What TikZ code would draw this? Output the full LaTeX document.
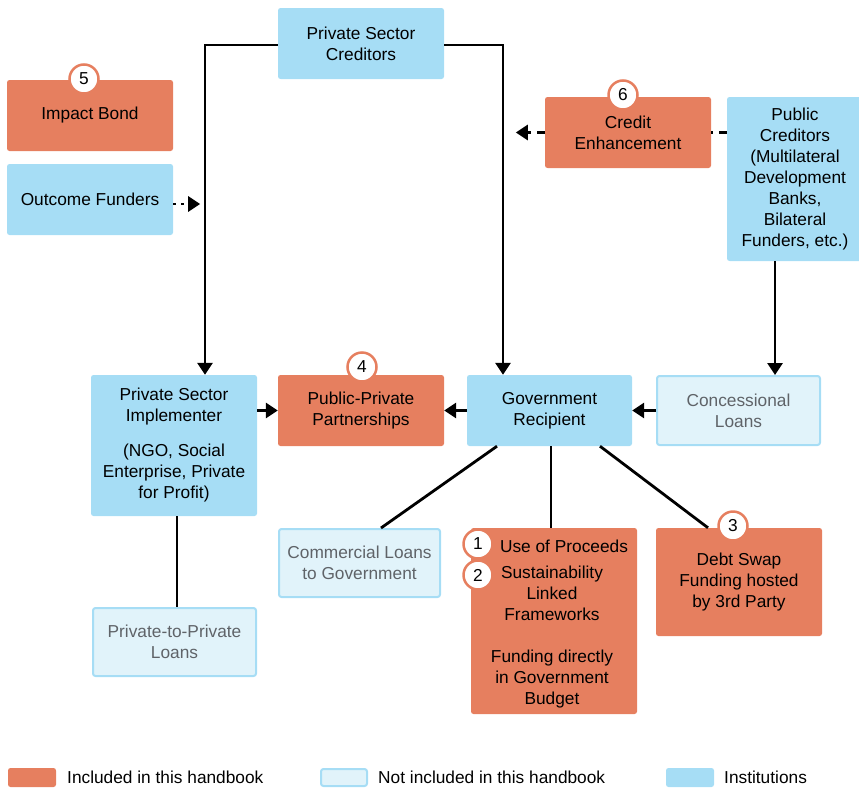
\documentclass[tikz,border=0pt]{standalone}
\usepackage{fontspec}
\setmainfont{Liberation Sans}
\usetikzlibrary{arrows.meta}
\definecolor{incl}{HTML}{E67F5F}
\definecolor{inst}{HTML}{A6DDF5}
\definecolor{notincl}{HTML}{E1F3FA}
\definecolor{notincltext}{HTML}{5F6368}

\begin{document}
\begin{tikzpicture}[x=1pt, y=-1pt,
		font=\fontsize{17.3pt}{21pt}\selectfont,
		box/.style={rounded corners=2.5pt, inner sep=0pt, align=center, minimum width=166pt, minimum height=71pt},
		inclbox/.style={box, fill=incl},
		instbox/.style={box, fill=inst},
		notbox/.style={box, fill=notincl, draw=inst, line width=2pt, text=notincltext},
		badge/.style={circle, fill=white, draw=incl, line width=2.5pt, minimum size=29pt, inner sep=0pt},
		conn/.style={line width=2.8pt},
		arr/.style={conn, -{Triangle[length=12pt, width=15pt]}},
		dotarr/.style={arr, dash pattern=on 3pt off 5pt},
		dasharr/.style={arr, dash pattern=on 8pt off 6pt},
		dashln/.style={conn, dash pattern=on 8pt off 6pt},
		legtext/.style={anchor=west, inner sep=0pt}]

	\useasboundingbox (0,0) rectangle (859,787);

	\begin{scope}
		\node[instbox] (pscred) at (361,43.5) {Private Sector\\Creditors};
		\node[inclbox] (impact) at (90,115.5) {Impact Bond};
		\node[instbox] (outcome) at (90,199.5) {Outcome Funders};
		\node[inclbox] (crenh) at (628,132.5) {Credit\\Enhancement};
		\node[instbox, minimum width=136pt, minimum height=164pt] (pubcred) at (795,179)
			{Public\\Creditors\\(Multilateral\\Development\\Banks,\\Bilateral\\Funders, etc.)};
	\end{scope}

	\begin{scope}
		\node[instbox, minimum height=141pt] (implem) at (174,445.5)
			{Private Sector\\Implementer\\[14pt](NGO, Social\\Enterprise, Private\\for Profit)};
		\node[inclbox] (ppp) at (361,410.5) {Public-Private\\Partnerships};
		\node[instbox, minimum width=165pt] (govrec) at (549.5,410.5) {Government\\Recipient};
		\node[notbox, minimum width=163pt, minimum height=69pt] (concess) at (738.5,410.5) {Concessional\\Loans};
	\end{scope}

	\begin{scope}
		\node[notbox, minimum width=161pt, minimum height=68pt] (commerc) at (359.5,563) {Commercial Loans\\to Government};
		\node[notbox, minimum width=163pt, minimum height=68pt] (ptop) at (174.5,642) {Private-to-Private\\Loans};
		\node[inclbox, minimum height=186pt] (usebox) at (554,621) {};
		\node[inner sep=0pt] (usetext) at (564,546) {Use of Proceeds};
		\node[inner sep=0pt, align=center] (sustext) at (552,637.5)
			{Sustainability\\Linked\\Frameworks\\[21pt]Funding directly\\in Government\\Budget};
		\node[inclbox, minimum height=108pt] (swap) at (739,582) {Debt Swap\\Funding hosted\\by 3rd Party};
	\end{scope}

	\begin{scope}
		\node[badge] (bfive) at (84,79) {5};
		\node[badge] (bsix) at (623,95) {6};
		\node[badge] (bfour) at (362,367) {4};
		\node[badge] (bthree) at (733,526) {3};
		\node[badge] (bone) at (478,544) {1};
		\node[badge] (btwo) at (478,575) {2};
	\end{scope}

	\begin{scope}
		\coordinate (implin) at ([xshift=31pt]implem.north);
		\coordinate (govin) at ([xshift=-46.5pt]govrec.north);
		\coordinate (concin) at ([xshift=36.5pt]concess.north);
		\draw[arr] ([yshift=-1.5pt]pscred.west) -| (implin);
		\draw[arr] ([yshift=-1.5pt]pscred.east) -| (govin);
		\draw[dotarr] ([yshift=-4.5pt]outcome.east) -- ++(27pt,0);
		\draw[dashln] (pubcred.west |- crenh.east) -- (crenh.east);
		\draw[dasharr] (crenh.west) -- ++(-29pt,0);
		\draw[arr] (pubcred.south -| concin) -- (concin);
		\draw[arr] (concess.west) -- (govrec.east);
		\draw[arr] (govrec.west) -- (ppp.east);
		\draw[arr] (implem.east |- ppp.west) -- (ppp.west);
		\draw[conn] ([xshift=-52.5pt]govrec.south) -- ([xshift=21.5pt]commerc.north);
		\draw[conn] ([xshift=1.5pt]govrec.south) -- ([xshift=-3pt]usebox.north);
		\draw[conn] ([xshift=50.5pt]govrec.south) -- ([xshift=-31pt]swap.north);
		\draw[conn] ([xshift=3pt]implem.south) -- ([xshift=2.5pt]ptop.north);
	\end{scope}

	\begin{scope}
		\node[inclbox, minimum width=48pt, minimum height=19pt] (legincl) at (32,777.5) {};
		\node[legtext] (leginclt) at (67,777.5) {Included in this handbook};
		\node[notbox, minimum width=46pt, minimum height=17pt] (legnot) at (344,777.5) {};
		\node[legtext] (legnott) at (378,777.5) {Not included in this handbook};
		\node[instbox, minimum width=48pt, minimum height=19pt] (leginst) at (690,777.5) {};
		\node[legtext] (leginstt) at (724,777.5) {Institutions};
	\end{scope}
\end{tikzpicture}
\end{document}
